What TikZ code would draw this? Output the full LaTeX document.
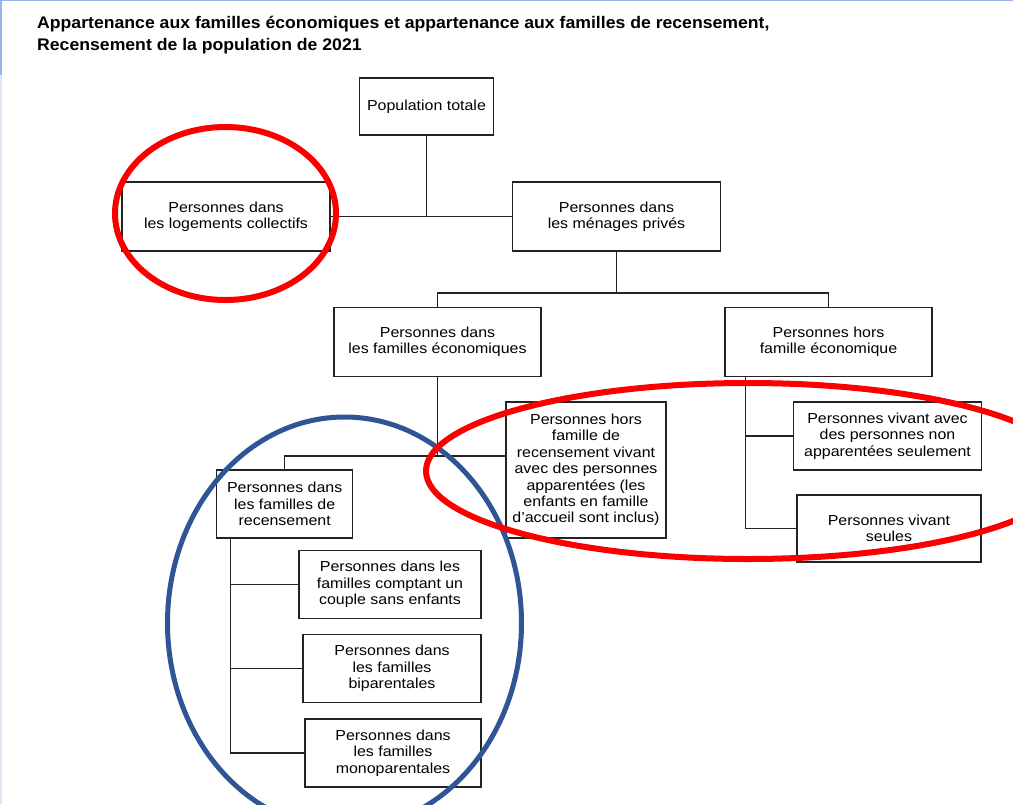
\documentclass[tikz,border=0pt]{standalone}
\usepackage{fontspec}
\setmainfont{Liberation Sans}
\newfontfamily\boxface[FakeStretch=1.1]{Liberation Sans}
\newfontfamily\titleface[FakeStretch=1.05]{Liberation Sans}
\definecolor{ringred}{RGB}{250, 0, 0}
\definecolor{ringblue}{RGB}{47, 85, 151}
\definecolor{boxgray}{RGB}{35, 35, 35}
\definecolor{framelight}{RGB}{150, 180, 228}
\definecolor{framepale}{RGB}{222, 230, 246}
\usetikzlibrary{positioning, calc}
\newcommand{\boxfont}{\boxface\fontsize{14.5}{16.4}\selectfont}
\newcommand{\titlefont}{\titleface\bfseries\fontsize{16.8}{22}\selectfont}

\begin{document}
\begin{tikzpicture}[
  x=1pt, y=-1pt,
  box/.style={draw=boxgray, line width=1.3pt, fill=white, align=center, inner sep=0pt, font=\boxfont},
  ttl/.style={anchor=base west, inner sep=0pt, font=\titlefont},
  link/.style={draw=boxgray, line width=1.3pt},
  ring/.style={line width=6pt}
]
  \useasboundingbox (0,0) rectangle (1013,804);
  \fill[white] (0,0) rectangle (1013,804);
  \draw[framelight, line width=1.5pt] (0,0.5) -- (1013,0.5);
  \draw[framelight, line width=2.5pt] (1,0) -- (1,75);
  \draw[framepale, line width=2.5pt] (1,75) -- (1,804);

  \node[ttl] (title1) at (37,28) {Appartenance aux familles économiques et appartenance aux familles de recensement,};
  \node[ttl] (title2) at (37,50) {Recensement de la population de 2021};

  % Top level
  \node[box, minimum width=134pt, minimum height=57pt] (pop) at (426.5,106.5) {Population totale};
  \node[box, minimum width=208pt, minimum height=69pt] (coll) at (226,216.5) {Personnes dans\\les logements collectifs};
  \node[box, minimum width=208pt, minimum height=69pt] (priv) at (616.5,216.5) {Personnes dans\\les ménages privés};

  \draw[link] (pop.south) -- (pop.south |- coll.east);
  \draw[link] (coll.east) -- (priv.west);

  % Private households
  \node[box, minimum width=207pt, minimum height=69pt] (econ) at (437.5,342) {Personnes dans\\les familles économiques};
  \node[box, minimum width=207pt, minimum height=69pt] (horseco) at (828.5,342) {Personnes hors\\famille économique};
  \coordinate (jpriv) at (616.5,293);
  \draw[link] (priv.south) -- (jpriv);
  \draw[link] (econ.north) |- (jpriv) -| (horseco.north);

  % Economic families branch
  \node[box, minimum width=136pt, minimum height=68pt] (recens) at (284.7,504) {Personnes dans\\les familles de\\recensement};
  \node[box, minimum width=160pt, minimum height=136pt] (horsrec) at (586,470) {Personnes hors\\famille de\\recensement vivant\\avec des personnes\\apparentées (les\\enfants en famille\\d’accueil sont inclus)};
  \coordinate (jecon) at (437.5,456);
  \draw[link] (econ.south) -- (jecon);
  \draw[link] (recens.north) |- (horsrec.west |- jecon);

  % Census families branch
  \node[box, minimum width=182pt, minimum height=68pt] (couple) at (390,584.5) {Personnes dans les\\familles comptant un\\couple sans enfants};
  \node[box, minimum width=178pt, minimum height=68pt] (bipar) at (392,668.5) {Personnes dans\\les familles\\biparentales};
  \node[box, minimum width=176pt, minimum height=68pt] (monopar) at (393,753) {Personnes dans\\les familles\\monoparentales};
  \draw[link] ([xshift=-54pt]recens.south) |- (monopar.west);
  \draw[link] ([xshift=-54pt]recens.south |- couple.west) -- (couple.west);
  \draw[link] ([xshift=-54pt]recens.south |- bipar.west) -- (bipar.west);

  % Outside economic family branch
  \node[box, minimum width=188pt, minimum height=68pt] (nonapp) at (887.5,436) {Personnes vivant avec\\des personnes non\\apparentées seulement};
  \node[box, minimum width=184pt, minimum height=67pt] (seules) at (889,528.5) {Personnes vivant\\seules};
  \draw[link] ([xshift=-83pt]horseco.south) |- (seules.west);
  \draw[link] ([xshift=-83pt]horseco.south |- nonapp.west) -- (nonapp.west);

  % Highlight rings
  \draw[ringblue, ring, line width=5pt] (344.5,623) ellipse [x radius=177pt, y radius=206pt];
  \draw[ringred, ring] (225.5,213.5) ellipse [x radius=110.5pt, y radius=86.5pt];
  \draw[ringred, ring] (748,471) ellipse [x radius=322pt, y radius=88pt];
\end{tikzpicture}
\end{document}
